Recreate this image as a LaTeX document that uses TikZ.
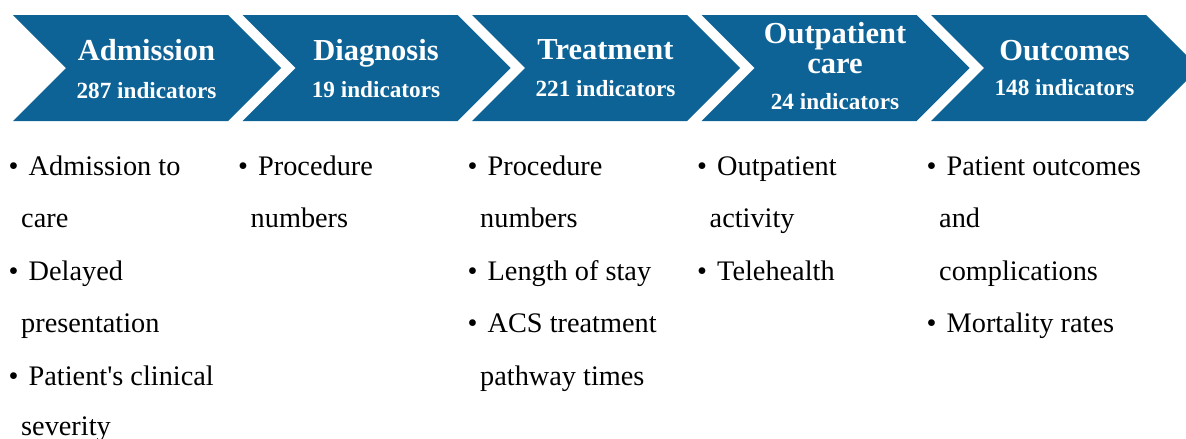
\documentclass[tikz,border=0pt]{standalone}
\usepackage{fontspec}
\newfontfamily\tnr{Liberation Serif}
\definecolor{chev}{RGB}{14,99,150}
\newcommand\bl[1]{\makebox[20pt][l]{\textbullet}#1}
\begin{document}
\begin{tikzpicture}[x=1pt,y=-1pt,
  chevron/.style={fill=chev,draw=none},
  ttl/.style={text=white,font=\tnr\fontsize{30.5}{30}\selectfont\bfseries,inner sep=0,anchor=base},
  sub/.style={text=white,font=\tnr\fontsize{23.2}{23}\selectfont\bfseries,inner sep=0,anchor=base},
  item/.style={font=\tnr\fontsize{28.3}{30}\selectfont,inner sep=0,anchor=base west}]
\useasboundingbox (0,0) rectangle (1186,439);
\foreach \k in {0,...,4}{
  \pgfmathsetmacro\L{13+229.5*\k}
  \fill[chevron] (\L,15) -- ++(215,0) -- ++(53,53) -- ++(-53,53) -- ++(-215,0) -- ++(53,-53) -- cycle;
}
% headings
\node[ttl] (t1) at (146.5,60) {Admission};
\node[sub] (s1) at (146.5,98) {287 indicators};
\node[ttl] (t2) at (376,60) {Diagnosis};
\node[sub] (s2) at (376,97) {19 indicators};
\node[ttl] (t3) at (605.5,59) {Treatment};
\node[sub] (s3) at (605.5,96) {221 indicators};
\node[ttl] (t4a) at (835,43) {Outpatient};
\node[ttl] (t4b) at (835,73) {care};
\node[sub] (s4) at (835,109) {24 indicators};
\node[ttl] (t5) at (1064.5,60) {Outcomes};
\node[sub] (s5) at (1064.5,95) {148 indicators};
% column 1
\node[item] (a1) at (8.5,175) {\bl{Admission to}};
\node[item] (a2) at (21,227.5) {care};
\node[item] (a3) at (8.5,280) {\bl{Delayed}};
\node[item] (a4) at (21,332.5) {presentation};
\node[item] (a5) at (8.5,385) {\bl{Patient's clinical}};
\node[item] (a6) at (21,435) {severity};
% column 2
\node[item] (b1) at (238,175) {\bl{Procedure}};
\node[item] (b2) at (250.5,227.5) {numbers};
% column 3
\node[item] (c1) at (467.5,175) {\bl{Procedure}};
\node[item] (c2) at (480,227.5) {numbers};
\node[item] (c3) at (467.5,280) {\bl{Length of stay}};
\node[item] (c4) at (467.5,332.5) {\bl{ACS treatment}};
\node[item] (c5) at (480,385) {pathway times};
% column 4
\node[item] (d1) at (697,175) {\bl{Outpatient}};
\node[item] (d2) at (709.5,227.5) {activity};
\node[item] (d3) at (697,280) {\bl{Telehealth}};
% column 5
\node[item] (e1) at (926.5,175) {\bl{Patient outcomes}};
\node[item] (e2) at (939,227.5) {and};
\node[item] (e3) at (939,280) {complications};
\node[item] (e4) at (926.5,332.5) {\bl{Mortality rates}};
\end{tikzpicture}
\end{document}
